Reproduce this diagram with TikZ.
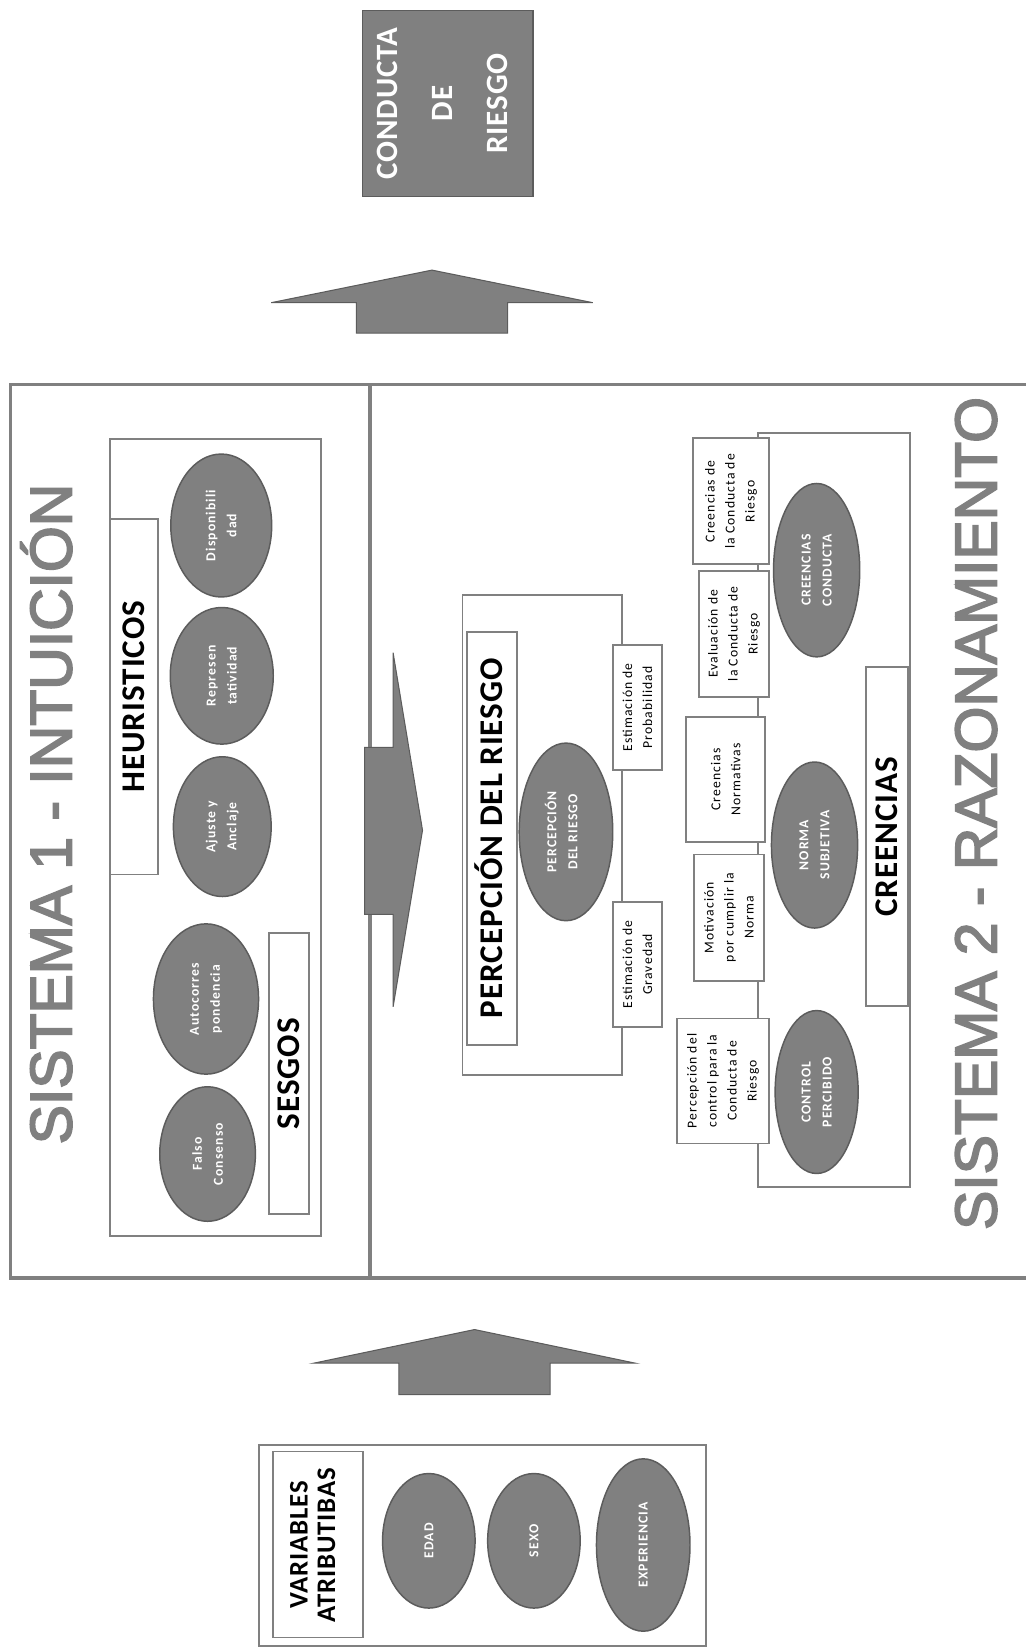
\documentclass[tikz,border=0pt]{standalone}
\usepackage{fontspec}
\setmainfont{Carlito}
\newfontfamily\sysfont[FakeBold=3]{Liberation Sans}
\newfontfamily\headfont[LetterSpace=3]{Carlito}
\newfontfamily\tinyfont[LetterSpace=8]{Carlito}
\usetikzlibrary{shapes.geometric}
\definecolor{edgegray}{RGB}{128,128,128}
\definecolor{fillgray}{RGB}{128,128,128}
\definecolor{darkedge}{RGB}{92,92,92}
\definecolor{titlegray}{RGB}{128,128,128}
\begin{document}
\begin{tikzpicture}[x=1pt,y=-1pt,
  frame/.style={draw=edgegray, line width=1.8pt, fill=white, inner sep=0pt, outer sep=0pt},
  bigframe/.style={draw=edgegray, line width=3pt},
  oval/.style={ellipse, draw=darkedge, line width=1.4pt, fill=fillgray, text=white,
    inner sep=0pt, rotate=90, align=center,
    font=\tinyfont\bfseries\fontsize{13}{20}\selectfont},
  note/.style={frame, rotate=90, align=center,
    font=\tinyfont\fontsize{13}{19}\selectfont},
  heading/.style={frame, rotate=90, text height=20pt, text depth=0pt,
    font=\headfont\bfseries\fontsize{31.5}{38}\selectfont},
  systitle/.style={rotate=90, anchor=base, inner sep=0pt, text=titlegray,
    font=\sysfont\fontsize{56}{60}\selectfont},
  blockarrow/.style={fill=fillgray, draw=darkedge, line width=1pt, line join=miter}
]
\useasboundingbox (0,0) rectangle (976,1568);

% ---- outcome box ----
\node[draw=darkedge, line width=1.4pt, fill=fillgray, minimum width=162, minimum height=177,
  inner sep=0pt] (conducta) at (426,98.5) {};
\node[rotate=90, align=center, text=white, inner sep=0pt,
  font=\headfont\bfseries\fontsize{29.5}{52}\selectfont] (conductatxt) at (421,98.5)
  {CONDUCTA\\DE\\RIESGO};

% ---- arrow towards the outcome ----
\coordinate (upA) at (411,257);
\draw[blockarrow] (339,317) -- (339,288) -- (258,288) -- (upA) -- (564,288) -- (483,288) -- (483,317) -- cycle;

% ---- two systems frame ----
\draw[bigframe] (976,366) -- (10,366) -- (10,1216) -- (976,1216);
\draw[bigframe] (352,366) -- (352,1216);

\node[systitle] (sys1) at (68,774.5) {SISTEMA 1 - INTUICIÓN};
\node[systitle] (sys2) at (948,774) {SISTEMA 2 - RAZONAMIENTO};

% ---- system 1: heuristics and biases ----
\node[frame, minimum width=200, minimum height=758] (heurframe) at (205,797) {};
\node[heading, minimum width=338, minimum height=45] (heur) at (127.5,663) {HEURISTICOS};
\node[heading, minimum width=267, minimum height=38] (sesgos) at (275,1021.5) {SESGOS};
\node[oval, minimum width=136, minimum height=96] (disp) at (210.5,500) {Disponibili\\dad};
\node[oval, minimum width=130, minimum height=98] (repr) at (211,643) {Represen\\tatividad};
\node[oval, minimum width=133, minimum height=93] (ajus) at (211.5,786.5) {Ajuste y\\Anclaje};
\node[oval, minimum width=143, minimum height=100] (auto) at (196,950.5) {Autocorres\\pondencia};
\node[oval, minimum width=128, minimum height=91] (falso) at (197.5,1098) {Falso\\Consenso};

% ---- arrow from system 1 to system 2 ----
\coordinate (rightA) at (402,790);
\draw[blockarrow] (347,711) -- (374,711) -- (374,621) -- (rightA) -- (374,958) -- (374,870) -- (347,870) -- cycle;

% ---- system 2: risk perception ----
\node[frame, minimum width=152, minimum height=457] (percframe) at (516,794.5) {};
\node[heading, minimum width=393, minimum height=48] (perctitle) at (468,797.5) {PERCEPCIÓN DEL RIESGO};
\node[oval, minimum width=169, minimum height=89] (perc) at (538.5,791.5) {};
\node[rotate=90, align=center, text=white, inner sep=0pt,
  font=\tinyfont\bfseries\fontsize{13}{20}\selectfont] (perctxt) at (534,791.5) {PERCEPCIÓN\\DEL RIESGO};
\node[note, minimum width=119, minimum height=47] (prob) at (606.5,673) {Estimación de\\Probabilidad};
\node[note, minimum width=119, minimum height=47] (grav) at (606.5,917.5) {Estimación de\\Gravedad};

% ---- system 2: beliefs ----
\node[frame, minimum width=145, minimum height=717] (creeframe) at (793.5,770.5) {};
\node[heading, minimum width=322, minimum height=40] (creetitle) at (844,796) {CREENCIAS};
\node[oval, minimum width=165, minimum height=82] (cc) at (777,542.5) {CREENCIAS\\CONDUCTA};
\node[oval, minimum width=158, minimum height=82] (ns) at (775,804) {NORMA\\SUBJETIVA};
\node[oval, minimum width=155, minimum height=79] (cp) at (777,1039) {CONTROL\\PERCIBIDO};
\node[note, minimum width=120, minimum height=73] (cbc) at (695.5,477) {Creencias de\\la Conducta de\\Riesgo};
\node[note, minimum width=120, minimum height=67] (ecr) at (698.5,603) {Evaluación de\\la Conducta de\\Riesgo};
\node[note, minimum width=119, minimum height=75] (cn) at (690.5,741.5) {Creencias\\Normativas};
\node[note, minimum width=120, minimum height=67] (mcn) at (693.5,873) {Motivación\\por cumplir la\\Norma};
\node[note, minimum width=119, minimum height=88] (pcc) at (688,1028.5) {Percepción del\\control para la\\Conducta de\\Riesgo};

% ---- arrow from attributes to the systems ----
\coordinate (upB) at (451.5,1265);
\draw[blockarrow] (379.5,1327) -- (379.5,1297) -- (298.5,1297) -- (upB) -- (604.5,1297) -- (523.5,1297) -- (523.5,1327) -- cycle;

% ---- attribute variables ----
\node[frame, minimum width=426, minimum height=191] (varframe) at (459,1470.5) {};
\node[frame, minimum width=85, minimum height=177] (vartitle) at (302.5,1469.5) {};
\node[rotate=90, align=center, inner sep=0pt,
  font=\headfont\bfseries\fontsize{25.5}{26}\selectfont] (vartxt) at (297.5,1470)
  {VARIABLES\\ATRIBUTIBAS};
\node[oval, minimum width=128, minimum height=88] (edad) at (408,1466) {EDAD};
\node[oval, minimum width=128, minimum height=88] (sexo) at (508,1466) {SEXO};
\node[oval, minimum width=164, minimum height=89] (exper) at (612,1470) {EXPERIENCIA};
\end{tikzpicture}
\end{document}
